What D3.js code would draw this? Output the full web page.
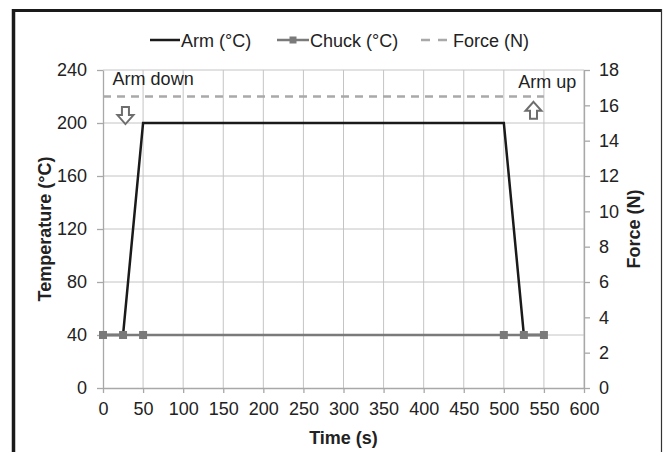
<!DOCTYPE html>
<html><head><meta charset="utf-8">
<script src="https://cdn.jsdelivr.net/npm/d3@7"></script>
<style>
body{margin:0;background:#fff;}
text{font-family:"Liberation Sans",Arial,sans-serif;fill:#222;}
</style></head>
<body>
<svg id="c" width="663" height="452"></svg>
<script>
const timeTicks = [0,50,100,150,200,250,300,350,400,450,500,550,600];
const tempTicks = [0,40,80,120,160,200,240];
const forceTicks = [0,2,4,6,8,10,12,14,16,18];
const armTime = [0,25,50,500,525,550];
const armTemp = [40,40,200,200,40,40];
const chuckTime = [0,25,50,500,525,550];
const chuckTemp = [40,40,40,40,40,40];
const forceTime = [0,550];
const forceVal = [16.5,16.5];
const seriesNames = ["Arm (°C)","Chuck (°C)","Force (N)"];

const svg = d3.select("#c");
const m = {l:103, t:70, r:79, b:64};
const W = 663 - m.l - m.r, H = 452 - m.t - m.b;

// frame
svg.append("rect").attr("x",0).attr("y",0).attr("width",663).attr("height",452).attr("fill","#fff");
svg.append("line").attr("x1",13.5).attr("x2",13.5).attr("y1",9).attr("y2",452).attr("stroke","#1a1a1a").attr("stroke-width",3.5);
svg.append("line").attr("x1",12).attr("x2",662).attr("y1",10.5).attr("y2",10.5).attr("stroke","#1a1a1a").attr("stroke-width",3);
svg.append("line").attr("x1",661.5).attr("x2",661.5).attr("y1",9).attr("y2",452).attr("stroke","#333").attr("stroke-width",1.2);

const x = d3.scaleLinear().domain([0,600]).range([m.l, m.l+W]);
const yT = d3.scaleLinear().domain([0,240]).range([m.t+H, m.t]);
const yF = d3.scaleLinear().domain([0,18]).range([m.t+H, m.t]);

const g = svg.append("g");
// gridlines
g.selectAll(".vg").data(timeTicks.slice(1)).enter().append("line")
  .attr("x1",d=>x(d)).attr("x2",d=>x(d)).attr("y1",m.t).attr("y2",m.t+H)
  .attr("stroke","#c4c4c4").attr("stroke-width",1);
g.selectAll(".hg").data(tempTicks.slice(1)).enter().append("line")
  .attr("x1",m.l).attr("x2",m.l+W).attr("y1",d=>yT(d)).attr("y2",d=>yT(d))
  .attr("stroke","#c4c4c4").attr("stroke-width",1);

const fs = "18px";
function styleAxis(sel){
  sel.select(".domain").attr("stroke","#a8a8a8").attr("stroke-width",1.3);
  sel.selectAll(".tick line").attr("stroke","#a8a8a8").attr("stroke-width",1.3);
  sel.selectAll(".tick text").attr("fill","#222").style("font-size",fs).attr("font-family","Liberation Sans, Arial, sans-serif");
}
const ax = svg.append("g").attr("transform",`translate(0,${m.t+H})`)
  .call(d3.axisBottom(x).tickValues(timeTicks).tickSize(5).tickSizeOuter(0).tickPadding(9));
styleAxis(ax);
const ayl = svg.append("g").attr("transform",`translate(${m.l},0)`)
  .call(d3.axisLeft(yT).tickValues(tempTicks).tickSize(6).tickSizeOuter(0).tickPadding(10));
styleAxis(ayl);
const ayr = svg.append("g").attr("transform",`translate(${m.l+W},0)`)
  .call(d3.axisRight(yF).tickValues(forceTicks).tickSize(6).tickSizeOuter(0).tickPadding(9));
styleAxis(ayr);

// axis titles
svg.append("text").attr("x",x(300)).attr("y",444).attr("text-anchor","middle")
  .style("font-size",fs).style("font-weight","bold").text("Time (s)");
svg.append("text").attr("transform",`translate(51,${yT(120)}) rotate(-90)`).attr("text-anchor","middle")
  .style("font-size",fs).style("font-weight","bold").text("Temperature (°C)");
svg.append("text").attr("transform",`translate(640,${yF(9)}) rotate(-90)`).attr("text-anchor","middle")
  .style("font-size",fs).style("font-weight","bold").text("Force (N)");

// series
const forceLine = d3.line().x((d,i)=>x(forceTime[i])).y(d=>yF(d));
svg.append("path").attr("d",forceLine(forceVal)).attr("fill","none")
  .attr("stroke","#a9a9a9").attr("stroke-width",2.5).attr("stroke-dasharray","8,6");

const armLine = d3.line().x((d,i)=>x(armTime[i])).y(d=>yT(d));
svg.append("path").attr("d",armLine(armTemp)).attr("fill","none")
  .attr("stroke","#1a1a1a").attr("stroke-width",2.5);

const chuckLine = d3.line().x((d,i)=>x(chuckTime[i])).y(d=>yT(d));
svg.append("path").attr("d",chuckLine(chuckTemp)).attr("fill","none")
  .attr("stroke","#7a7a7a").attr("stroke-width",2.5);
svg.selectAll(".cm").data(chuckTemp).enter().append("rect")
  .attr("x",(d,i)=>x(chuckTime[i])-4).attr("y",d=>yT(d)-4)
  .attr("width",8).attr("height",8).attr("fill","#7a7a7a");

// annotations
svg.append("text").attr("x",x(12)).attr("y",yF(17.15)).style("font-size",fs).text("Arm down");
svg.append("text").attr("x",x(518)).attr("y",yF(17.0)).style("font-size",fs).text("Arm up");
function blockArrow(cx, top, dir){
  const sw=3.5, hw=8, sh=8, hh=9;
  let pts;
  if(dir===1){
    pts=[[cx-sw,top],[cx+sw,top],[cx+sw,top+sh],[cx+hw,top+sh],[cx,top+sh+hh],[cx-hw,top+sh],[cx-sw,top+sh]];
  } else {
    pts=[[cx,top],[cx+hw,top+hh],[cx+sw,top+hh],[cx+sw,top+hh+sh],[cx-sw,top+hh+sh],[cx-sw,top+hh],[cx-hw,top+hh]];
  }
  svg.append("polygon").attr("points",pts.map(p=>p.join(",")).join(" "))
    .attr("fill","#fff").attr("stroke","#6e6e6e").attr("stroke-width",2).attr("stroke-linejoin","miter");
}
blockArrow(x(28), yF(15.9), 1);
blockArrow(x(537), yF(16.2), -1);

// legend
const lg = svg.append("g");
const ly = 40;
lg.append("line").attr("x1",150).attr("x2",180).attr("y1",ly).attr("y2",ly).attr("stroke","#1a1a1a").attr("stroke-width",2.5);
lg.append("text").attr("x",181).attr("y",ly+6.5).style("font-size",fs).text(seriesNames[0]);
lg.append("line").attr("x1",277).attr("x2",309).attr("y1",ly).attr("y2",ly).attr("stroke","#7a7a7a").attr("stroke-width",2.5);
lg.append("rect").attr("x",289.5).attr("y",ly-3.5).attr("width",7).attr("height",7).attr("fill","#7a7a7a");
lg.append("text").attr("x",310).attr("y",ly+6.5).style("font-size",fs).text(seriesNames[1]);
lg.append("line").attr("x1",421).attr("x2",448).attr("y1",ly).attr("y2",ly).attr("stroke","#a9a9a9").attr("stroke-width",2.5).attr("stroke-dasharray","9,8");
lg.append("text").attr("x",453).attr("y",ly+6.5).style("font-size",fs).text(seriesNames[2]);
</script>
</body></html>
